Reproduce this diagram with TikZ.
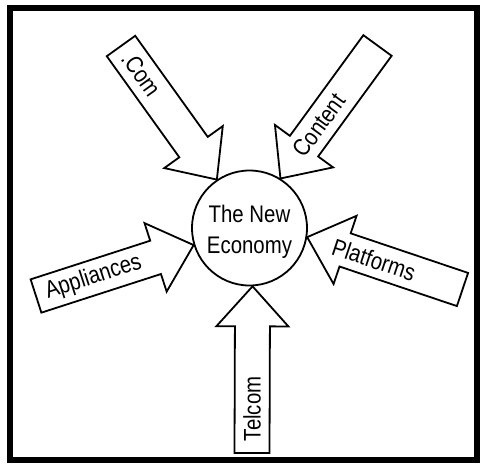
\documentclass[tikz,border=0pt]{standalone}
\usepackage{fontspec}
\newfontfamily\lblfont[FakeStretch=0.85]{Liberation Sans}
\usetikzlibrary{calc}

\tikzset{
  outline/.style={draw, line width=1.8pt, line join=miter},
  blockarrow/.style={outline, fill=white},
  lbl/.style={font=\lblfont\fontsize{24}{31.5}\selectfont, inner sep=0pt},
}

% Block arrow from tail (#2) to tip (#3); shaft 35pt, head 72pt wide, 40pt long
\newcommand\blockarrowdraw[3]{%
  \coordinate (#1-t) at #2;
  \coordinate (#1-p) at #3;
  \coordinate (#1-b) at ($(#1-p)!40pt!(#1-t)$);
  \draw[blockarrow]
    ($(#1-t)!17.5pt!90:(#1-p)$) --
    ($(#1-b)!17.5pt!90:(#1-p)$) --
    ($(#1-b)!36pt!90:(#1-p)$) --
    (#1-p) --
    ($(#1-b)!36pt!-90:(#1-p)$) --
    ($(#1-b)!17.5pt!-90:(#1-p)$) --
    ($(#1-t)!17.5pt!-90:(#1-p)$) -- cycle;
}

\begin{document}
\begin{tikzpicture}[x=1pt,y=-1pt]
  \useasboundingbox (0,0) rectangle (480,464);

  % outer frame
  \draw[line width=6pt] (10,8) rectangle (477,460);

  % central circle
  \node[circle, outline, minimum size=115pt, inner sep=0pt] (econ) at (249.5,228) {};
  \node[lbl, align=center] (econtext) at (249.5,232) {The New\\Economy};

  % the five block arrows pointing at the circle
  \blockarrowdraw{dc}{(121,46)}{(econ.124)}
  \blockarrowdraw{ct}{(377.5,45.5)}{(econ.58)}
  \blockarrowdraw{ap}{(36,296)}{(econ.197)}
  \blockarrowdraw{pf}{(462.5,289.5)}{(econ.-9)}
  \blockarrowdraw{tc}{(252,453)}{(econ.-87.5)}

  % labels along the shafts
  \path (dc-t) -- (dc-p) node[lbl, pos=0.21, rotate=-54.4] (dclbl) {.Com};
  \path (ct-t) -- (ct-p) node[lbl, pos=0.60, rotate=53.8] (ctlbl) {Content};
  \path (ap-t) -- (ap-p) node[lbl, pos=0.365, rotate=18] (aplbl) {Appliances};
  \path (pf-t) -- (pf-p) node[lbl, pos=0.57, rotate=-18.5] (pflbl) {Platforms};
  \path (tc-t) -- (tc-p) node[lbl, pos=0.265, rotate=90] (tclbl) {Telcom};
\end{tikzpicture}
\end{document}
